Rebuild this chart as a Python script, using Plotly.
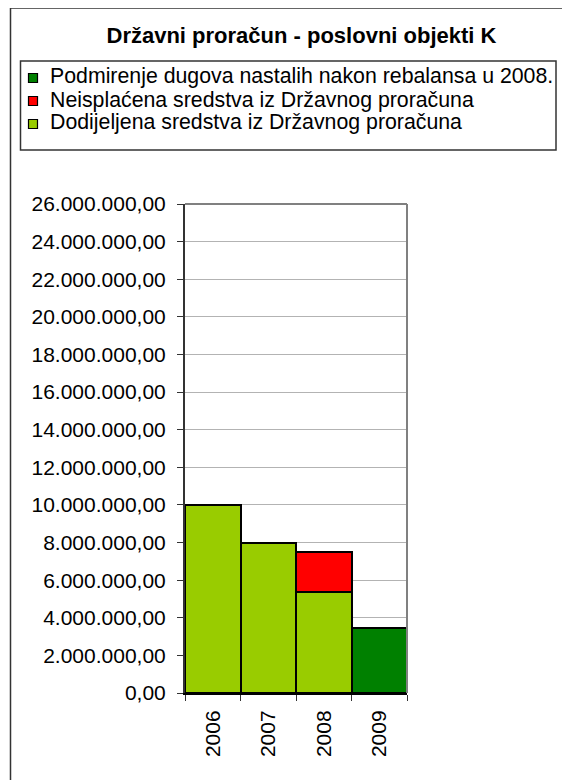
import plotly.graph_objects as go

years = ['2006', '2007', '2008', '2009']
dodijeljena = [10000000, 7950000, 5380000, None]
neisplacena = [None, None, 2120000, None]
podmirenje = [None, None, None, 3470000]
y_ticks = list(range(0, 26000001, 2000000))

names = ['Dodijeljena sredstva iz Državnog proračuna',
         'Neisplaćena sredstva iz Državnog proračuna',
         'Podmirenje dugova nastalih nakon rebalansa u 2008.']
colors = ['#99cc00', '#ff0000', '#008000']

# page body has an 8px margin, so the figure is 8px smaller than the window
W, H = 562, 772
L, R, T, B = 177, 163, 196, 87
pw, ph = W - L - R, H - T - B


# helpers: reference-image pixel -> paper coords
def px(x):
    return (x - 8 - L) / pw


def py(y):
    return (H - B - (y - 8)) / ph


bar_line = dict(color='black', width=2)
fig = go.Figure()
for vals, name, col in zip([dodijeljena, neisplacena, podmirenje], names, colors):
    fig.add_trace(go.Bar(x=years, y=vals, name=name,
                         marker=dict(color=col, line=bar_line)))

# legend drawn by hand to match the box layout (reversed order, like stacked legend)
shapes = []
annotations = []
for i, (name, col) in enumerate(zip(names[::-1], colors[::-1])):
    yc = 78 + i * 23
    shapes.append(dict(type='rect', xref='paper', yref='paper',
                       x0=px(28.5), x1=px(37.5), y0=py(yc + 4.5), y1=py(yc - 4.5),
                       fillcolor=col, line=dict(color='black', width=1.2)))
    annotations.append(dict(text=name, xref='paper', yref='paper', x=px(48), y=py(yc - 1.5),
                            xanchor='left', yanchor='middle', showarrow=False,
                            font=dict(size=21.3, color='black')))

shapes += [
    # plot area border (top and right, grey)
    dict(type='line', xref='paper', yref='paper', x0=0, x1=1, y0=1, y1=1,
         line=dict(color='#808080', width=2)),
    dict(type='line', xref='paper', yref='paper', x0=1, x1=1, y0=0, y1=1,
         line=dict(color='#808080', width=2)),
    # legend box
    dict(type='rect', xref='paper', yref='paper', x0=px(20.5), x1=px(556), y0=py(150), y1=py(61),
         line=dict(color='#333', width=1.5), layer='below'),
    # outer chart frame
    dict(type='rect', xref='paper', yref='paper', x0=px(10.5), x1=px(600), y0=py(800), y1=py(8),
         line=dict(color='#333', width=1.5), layer='below'),
]

fig.update_layout(
    width=W, height=H,
    margin=dict(l=L, r=R, t=T, b=B, autoexpand=False),
    barmode='stack', bargap=0,
    separators=',.',
    paper_bgcolor='white', plot_bgcolor='white',
    font=dict(family='Liberation Sans, Arial, sans-serif', color='black', size=21),
    title=dict(text='<b>Državni proračun - poslovni objekti K</b>', x=(301.5 - 8) / W,
               xref='container', xanchor='center',
               y=1 - 27 / H, yanchor='middle', font=dict(size=22)),
    showlegend=False,
    xaxis=dict(type='category', tickangle=-90, tickson='boundaries', ticks='outside',
               ticklen=6, tickcolor='#333', showline=True, linecolor='black', linewidth=2,
               showgrid=False, tickfont=dict(size=21), ticklabelstandoff=7, automargin=False),
    yaxis=dict(range=[0, 26000000], tickvals=y_ticks, tickformat=',.2f', ticks='outside',
               ticklen=6, tickcolor='#333', showline=True, linecolor='#333', linewidth=2,
               showgrid=True, gridcolor='#b3b3b3', gridwidth=1, zeroline=False,
               tickfont=dict(size=21), ticklabelstandoff=7, automargin=False),
    shapes=shapes,
    annotations=annotations,
)

fig.write_html('out.html')
